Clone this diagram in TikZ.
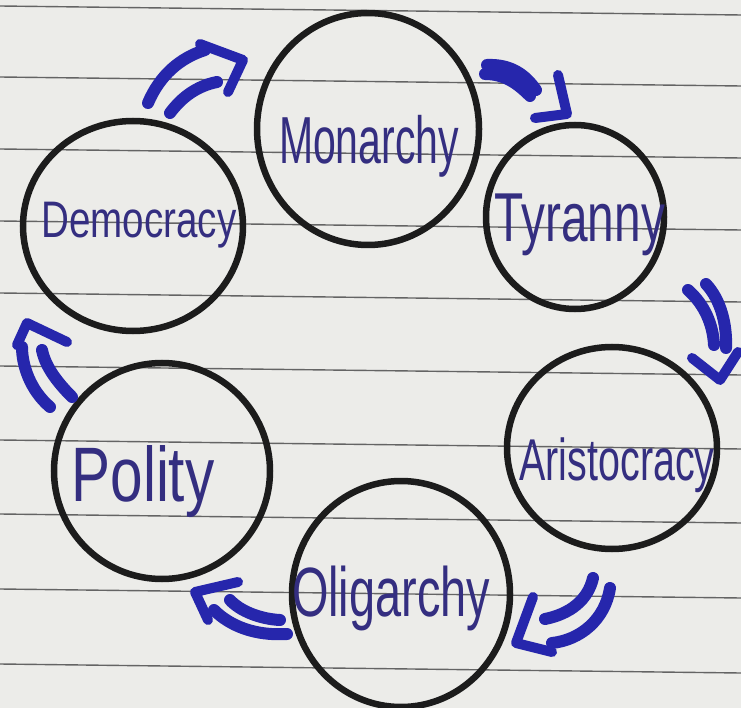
\documentclass[tikz,border=0pt]{standalone}
\usepackage{fontspec}
\setmainfont{Liberation Sans}
\usetikzlibrary{shapes.geometric}
\definecolor{paper}{RGB}{236,236,233}
\definecolor{rulec}{RGB}{100,100,100}
\definecolor{ink}{RGB}{38,38,172}
\definecolor{pen}{RGB}{52,46,128}
\definecolor{ringc}{RGB}{28,28,28}
\begin{document}
\begin{tikzpicture}[x=1pt,y=-1pt,
  ring/.style={draw=ringc, line width=6.5pt, ellipse, inner sep=0pt},
  lbl/.style={text=pen, inner sep=0pt},
  shaft/.style={draw=ink, line width=12pt, line cap=round},
  arrowhd/.style={draw=ink, line width=10pt, line cap=round, line join=round}]
\fill[paper] (0,0) rectangle (741,708);
\useasboundingbox (0,0) rectangle (741,708);
\foreach \y in {6,77,149,221,293,366,440,514,589,664}
  \draw[rulec, line width=1.4pt] (0,\y) -- (741,\y+9);

% circles
\node[ring, minimum width=222pt, minimum height=232pt] (mon) at (368,129) {};
\node[ring, minimum width=178pt, minimum height=184pt] (tyr) at (575,217) {};
\node[ring, minimum width=210pt, minimum height=202pt] (ari) at (612,448) {};
\node[ring, minimum width=218pt, minimum height=226pt] (oli) at (401,594) {};
\node[ring, minimum width=216pt, minimum height=216pt] (pol) at (162,471) {};
\node[ring, minimum width=220pt, minimum height=210pt] (dem) at (133,226) {};

% labels
\node[lbl] (monl) at (369,146) {\resizebox*{180pt}{62pt}{Monarchy}};
\node[lbl] (tyrl) at (580,225) {\resizebox*{170pt}{62pt}{Tyranny}};
\node[lbl] (aril) at (617,465) {\resizebox*{195pt}{55pt}{Aristocracy}};
\node[lbl] (olil) at (391,598) {\resizebox*{198pt}{65pt}{Oligarchy}};
\node[lbl] (poll) at (143,482) {\resizebox*{143pt}{72pt}{Polity}};
\node[lbl] (deml) at (139,225) {\resizebox*{195pt}{46pt}{Democracy}};

% arrows: Democracy -> Monarchy
\draw[shaft] (148,103) .. controls (160,75) and (180,58) .. (205,50);
\draw[shaft] (170,113) .. controls (182,97) and (197,86) .. (217,82);
\draw[arrowhd] (200,44) -- (243,60) -- (228,92);
% Monarchy -> Tyranny
\draw[shaft] (487,65) .. controls (510,64) and (525,74) .. (536,90);
\draw[shaft] (485,74) .. controls (505,74) and (518,84) .. (530,96);
\draw[arrowhd] (558,75) -- (567,114) -- (535,118);
% Tyranny -> Aristocracy
\draw[shaft] (688,290) .. controls (705,305) and (713,325) .. (714,345);
\draw[shaft] (706,284) .. controls (721,300) and (727,325) .. (726,348);
\draw[arrowhd] (692,358) -- (720,380) -- (738,352);
% Aristocracy -> Oligarchy
\draw[shaft] (593,578) .. controls (588,600) and (570,614) .. (545,619);
\draw[shaft] (610,588) .. controls (605,620) and (580,640) .. (552,643);
\draw[arrowhd] (533,597) -- (516,643) -- (552,652);
% Oligarchy -> Polity
\draw[shaft] (280,620) .. controls (260,619) and (240,611) .. (230,600);
\draw[shaft] (287,634) .. controls (255,636) and (230,626) .. (214,610);
\draw[arrowhd] (238,582) -- (195,592) -- (208,620);
% Polity -> Democracy
\draw[shaft] (50,407) .. controls (30,390) and (22,365) .. (22,347);
\draw[shaft] (72,397) .. controls (55,380) and (45,365) .. (42,350);
\draw[arrowhd] (17,345) -- (27,323) -- (67,342);
\end{tikzpicture}
\end{document}
